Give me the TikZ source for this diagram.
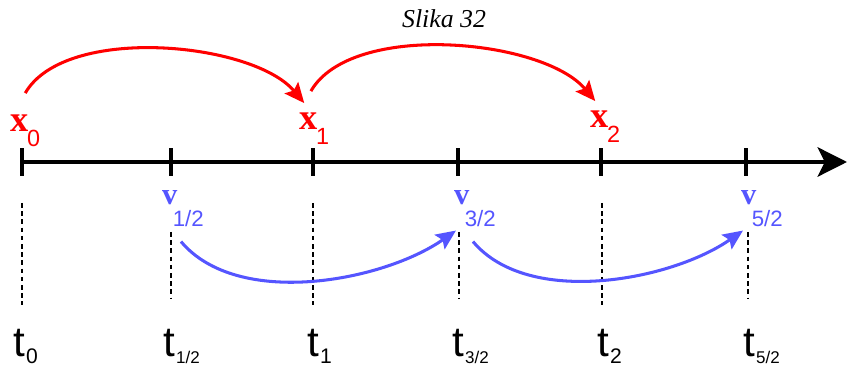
\documentclass[tikz,border=0pt]{standalone}
\usepackage{fontspec}
\setmainfont{Liberation Serif}
\newfontfamily\subfont{Liberation Sans}
\usetikzlibrary{arrows.meta}
\definecolor{vblue}{RGB}{85,85,255}
\newcommand{\xlab}[1]{{\bfseries\fontsize{31}{31}\selectfont x}\kern-1pt\raisebox{-12pt}{\subfont\fontsize{20}{20}\selectfont #1}}
\newcommand{\vlab}[1]{{\bfseries\fontsize{26}{26}\selectfont v}\kern-4pt\raisebox{-18pt}{\subfont\fontsize{19}{19}\selectfont #1}}
\newcommand{\tlab}[2]{{\subfont\fontsize{36}{36}\selectfont t}\kern1pt\raisebox{-5.5pt}{\subfont\fontsize{#2}{#2}\selectfont #1}}
\begin{document}
\begin{tikzpicture}[x=0.03cm, y=0.03cm,
			axis/.style={line width=3.4pt, -{Stealth[length=25pt, width=25pt, inset=6pt]}},
			tickmark/.style={line width=3.4pt},
			guide/.style={line width=1.1pt, dash pattern=on 4pt off 3pt},
			redarc/.style={red, line width=2.6pt, -{Stealth[length=17pt, width=15pt, inset=3pt]}},
			bluearc/.style={vblue, line width=2.6pt, -{Stealth[length=17pt, width=15pt, inset=3pt]}},
			lab/.style={inner sep=0pt, anchor=base west}]
			\useasboundingbox (0,0) rectangle (848,369);
			\node[anchor=base] (title) at (444,341) {\itshape\fontsize{22}{22}\selectfont Slika 32};
			%---------------- TRUC ----------------
			\coordinate (axisstart) at (20,207);
			\coordinate (axisend) at (847,207);
			\draw[axis] (axisstart) -- (axisend);
			\foreach \name/\xx in {k0/22, k12/171, k1/313, k32/458, k2/601, k52/746}
				\draw[tickmark] (\xx,193) coordinate (\name) -- (\xx,221);
			%---------------- ISPREKIDANE ----------------
			\draw[guide] (22,166) -- (22,64);
			\draw[guide] (313,166) -- (313,64);
			\draw[guide] (602,166) -- (602,64);
			\draw[guide] (171,137) -- (171,71);
			\draw[guide] (459,137) -- (459,71);
			\draw[guide] (748,137) -- (748,71);
			%---------------- POLOZAJI ----------------
			\node[lab, red] (x0) at (10,237) {\xlab{0}};
			\node[lab, red] (x1) at (299,239) {\xlab{1}};
			\node[lab, red] (x2) at (590,241) {\xlab{2}};
			\draw[redarc] ([yshift=0.66cm]x0.north) to[out=60, in=130, looseness=0.73] ([xshift=-0.3cm, yshift=0.3cm]x1.north);
			\draw[redarc] ([xshift=-0.1cm, yshift=0.66cm]x1.north) to[out=60, in=130, looseness=0.73] ([xshift=-0.3cm, yshift=0.3cm]x2.north);
			%---------------- BRZINE ----------------
			\node[lab, vblue] (v12) at (162,164) {\vlab{1/2}};
			\node[lab, vblue] (v32) at (454,164) {\vlab{3/2}};
			\node[lab, vblue] (v52) at (741,164) {\vlab{5/2}};
			\draw[bluearc] ([xshift=-0.06cm, yshift=-0.45cm]v12.south) to[out=-50, in=-145, looseness=0.82] ([xshift=-0.57cm, yshift=-0.12cm]v32.south);
			\draw[bluearc] ([xshift=-0.06cm, yshift=-0.45cm]v32.south) to[out=-50, in=-145, looseness=0.82] ([xshift=-0.57cm, yshift=-0.12cm]v52.south);
			%---------------- VREMENA ----------------
			\node[lab] (t0) at (13,12) {\tlab{0}{18}};
			\node[lab] (t12) at (163,12) {\tlab{1/2}{14.5}};
			\node[lab] (t1) at (307,12) {\tlab{1}{18}};
			\node[lab] (t32) at (452,12) {\tlab{3/2}{14.5}};
			\node[lab] (t2) at (597,12) {\tlab{2}{18}};
			\node[lab] (t52) at (743,12) {\tlab{5/2}{14.5}};
		\end{tikzpicture}
\end{document}
